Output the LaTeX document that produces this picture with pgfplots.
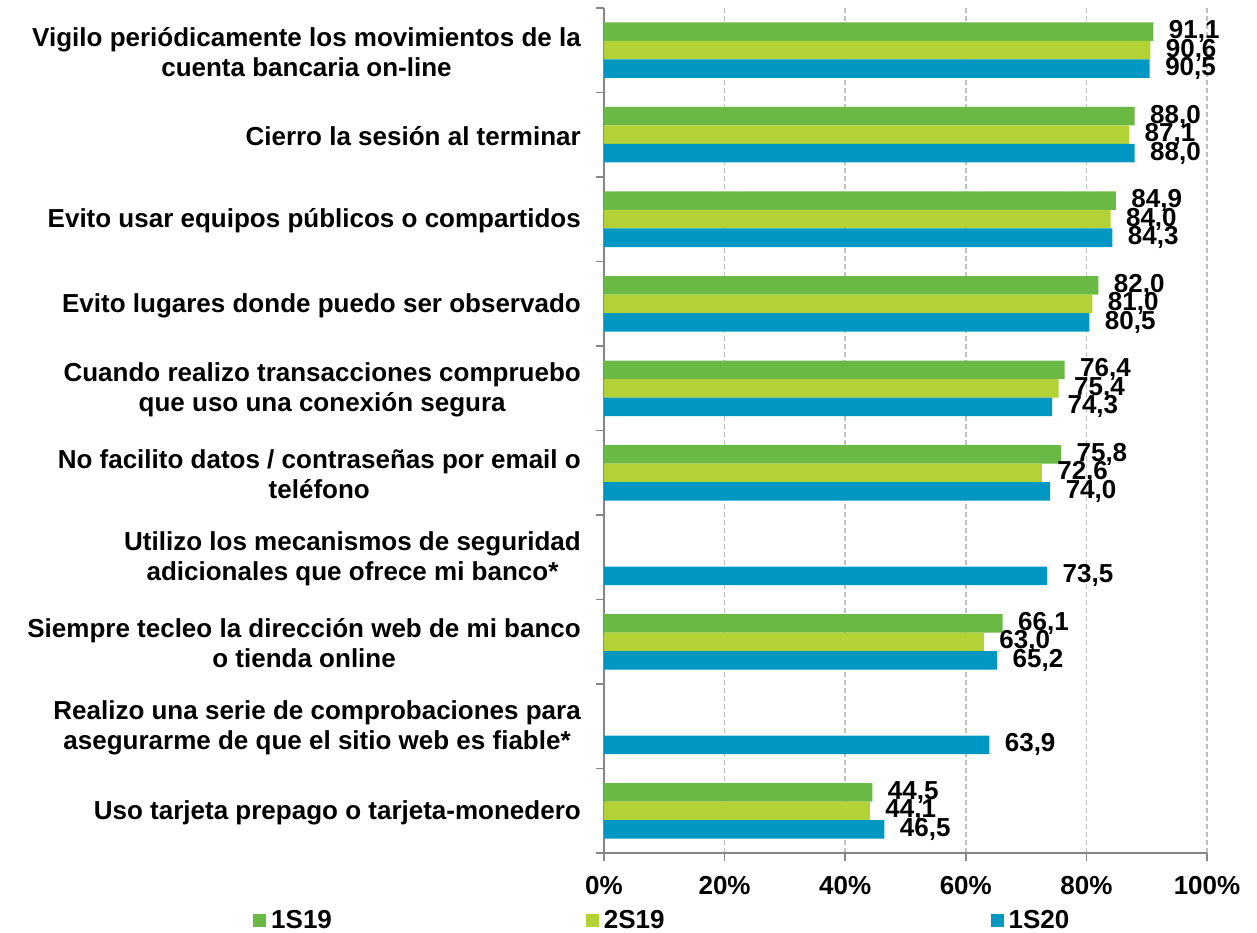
\documentclass[border=0pt]{standalone}
\usepackage{fontspec}
\setmainfont{Liberation Sans}
\usepackage{pgfplots}
\pgfplotsset{compat=1.18}
\definecolor{cA}{RGB}{106,185,69}
\definecolor{cB}{RGB}{178,210,53}
\definecolor{cC}{RGB}{0,152,195}
\definecolor{axgray}{RGB}{134,134,134}
\definecolor{grgray}{RGB}{192,192,192}
\begin{document}
\begin{tikzpicture}[font=\fontsize{26}{30}\selectfont\bfseries]
\useasboundingbox (-604pt,-80pt) rectangle (653pt,853pt);
\begin{axis}[
  at={(0pt,0pt)}, anchor=south west,
  scale only axis, width=603pt, height=845pt,
  xbar=0pt, bar width=18.5pt,
  xmin=0, xmax=100, ymin=-0.5, ymax=9.5, y dir=reverse,
  clip=false,
  axis x line*=bottom, axis y line*=left,
  axis line style={draw=axgray, line width=1.5pt, -},
  tick align=outside, major tick length=8pt,
  tick style={draw=axgray, line width=1.5pt},
  xtick={0,20,40,60,80,100},
  xticklabels={0\%,20\%,40\%,60\%,80\%,100\%},
  xticklabel style={yshift=-12pt},
  xmajorgrids,
  major grid style={draw=grgray, line width=1.5pt, dash pattern=on 5pt off 3pt},
  ytick={-0.5,0.5,1.5,2.5,3.5,4.5,5.5,6.5,7.5,8.5,9.5},
  yticklabels={
    {Vigilo periódicamente los movimientos de la\\cuenta bancaria on-line},
    {Cierro la sesión al terminar},
    {Evito usar equipos públicos o compartidos},
    {Evito lugares donde puedo ser observado},
    {Cuando realizo transacciones compruebo\\que uso una conexión segura},
    {No facilito datos / contraseñas por email o\\teléfono},
    {Utilizo los mecanismos de seguridad\\adicionales que ofrece mi banco*},
    {Siempre tecleo la dirección web de mi banco\\o tienda online},
    {Realizo una serie de comprobaciones para\\asegurarme de que el sitio web es fiable*},
    {Uso tarjeta prepago o tarjeta-monedero},
    {}},
  yticklabel style={align=center, anchor=east, yshift=-44pt, inner sep=0pt, xshift=-15pt},
  point meta=x,
  /pgf/number format/assume math mode=true,
  nodes near coords={\pgfmathprintnumber[fixed,fixed zerofill,precision=1,use comma,assume math mode=true]{\pgfplotspointmeta}},
  every node near coord/.append style={anchor=west, xshift=12pt, font=\fontsize{26}{27}\selectfont\bfseries, text=black},
  legend columns=3,
  legend style={draw=none, fill=none, at={(axis description cs:-0.587,-0.080)}, anchor=west,
    nodes={inner sep=0pt, anchor=west},
    /tikz/every odd column/.append style={column sep=5pt},
    /tikz/every even column/.append style={column sep=254pt}},
]
\addplot[fill=cA, draw=none, bar shift=18.5pt, legend image code/.code={\path[fill=cA] (0pt,-6.5pt) rectangle (13pt,6.5pt);}]
  coordinates {(91.1,0) (88.0,1) (84.9,2) (82.0,3) (76.4,4) (75.8,5) (66.1,7) (44.5,9)};
\addplot[fill=cB, draw=none, bar shift=0pt, legend image code/.code={\path[fill=cB] (0pt,-6.5pt) rectangle (13pt,6.5pt);}]
  coordinates {(90.6,0) (87.1,1) (84.0,2) (81.0,3) (75.4,4) (72.6,5) (63.0,7) (44.1,9)};
\addplot[fill=cC, draw=none, bar shift=-18.5pt, legend image code/.code={\path[fill=cC] (0pt,-6.5pt) rectangle (13pt,6.5pt);}]
  coordinates {(90.5,0) (88.0,1) (84.3,2) (80.5,3) (74.3,4) (74.0,5) (73.5,6) (65.2,7) (63.9,8) (46.5,9)};
\legend{1S19,2S19\rule{72pt}{0pt},1S20}
\end{axis}
\end{tikzpicture}
\end{document}
